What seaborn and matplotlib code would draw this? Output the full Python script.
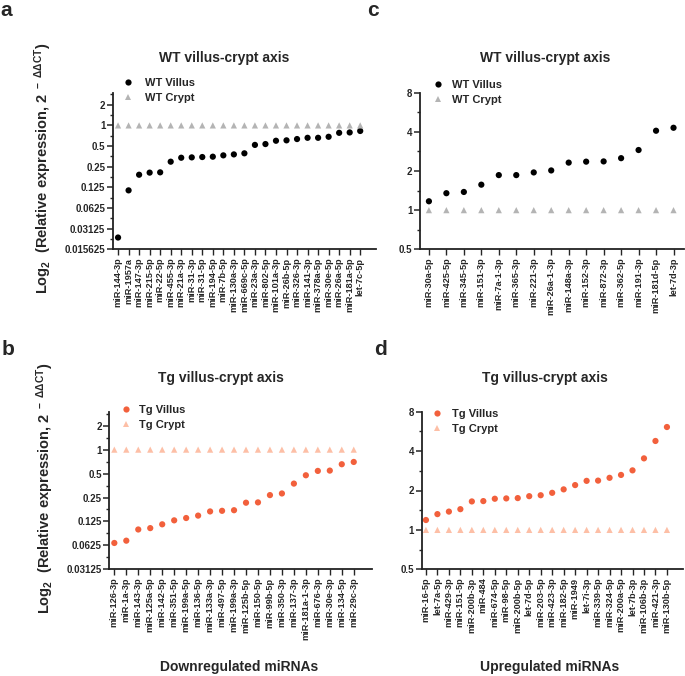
import pandas as pd
import matplotlib.pyplot as plt
import seaborn as sns
from matplotlib.ticker import FixedLocator, FixedFormatter, NullFormatter


sns.set_style("ticks")
plt.rcParams["font.family"] = ["Liberation Sans", "DejaVu Sans"]
plt.rcParams["mathtext.default"] = "regular"


# -------------------------------
# Data
# -------------------------------

# a: WT, downregulated in villus
wt_down_mirs = [
    "miR-144-3p", "miR-1957a", "miR-147-3p", "miR-215-5p", "miR-22-5p",
    "miR-455-3p", "miR-21a-3p", "miR-31-3p", "miR-31-5p", "miR-194-5p",
    "miR-7b-5p", "miR-130a-3p", "miR-669c-5p", "miR-23a-3p", "miR-802-5p",
    "miR-101a-3p", "miR-26b-5p", "miR-326-3p", "miR-141-3p", "miR-378a-5p",
    "miR-30e-5p", "miR-26a-5p", "miR-181a-5p", "let-7c-5p",
]
wt_down_villus = [
    0.0232, 0.113, 0.191, 0.205, 0.207,
    0.296, 0.338, 0.342, 0.346, 0.350,
    0.366, 0.378, 0.392, 0.520, 0.535,
    0.598, 0.606, 0.633, 0.660, 0.660,
    0.683, 0.780, 0.790, 0.830,
]

# b: Tg, downregulated in villus
tg_down_mirs = [
    "miR-126-3p", "miR-1a-3p", "miR-143-3p", "miR-125a-5p", "miR-142-5p",
    "miR-351-5p", "miR-199a-5p", "miR-136-5p", "miR-133a-3p", "miR-497-5p",
    "miR-199a-3p", "miR-125b-5p", "miR-150-5p", "miR-99b-5p", "miR-350-3p",
    "miR-137-3p", "miR-181a-1-3p", "miR-676-3p", "miR-30e-3p", "miR-134-5p",
    "miR-29c-3p",
]
tg_down_villus = [
    0.067, 0.0716, 0.099, 0.103, 0.115,
    0.129, 0.138, 0.148, 0.167, 0.170,
    0.173, 0.215, 0.217, 0.268, 0.281,
    0.374, 0.476, 0.540, 0.545, 0.655,
    0.700,
]

# c: WT, upregulated in villus
wt_up_mirs = [
    "miR-30a-5p", "miR-425-5p", "miR-345-5p", "miR-151-3p", "miR-7a-1-3p",
    "miR-365-3p", "miR-221-3p", "miR-26a-1-3p", "miR-148a-3p", "miR-152-3p",
    "miR-872-3p", "miR-362-5p", "miR-191-3p", "miR-181d-5p", "let-7d-3p",
]
wt_up_villus = [
    1.17, 1.35, 1.38, 1.57, 1.86,
    1.86, 1.95, 2.02, 2.32, 2.36,
    2.37, 2.51, 2.90, 4.08, 4.30,
]

# d: Tg, upregulated in villus
tg_up_mirs = [
    "miR-16-5p", "let-7a-5p", "miR-429-3p", "miR-151-5p", "miR-200b-3p",
    "miR-484", "miR-674-5p", "miR-98-5p", "miR-200b-5p", "let-7d-5p",
    "miR-203-5p", "miR-423-3p", "miR-182-5p", "miR-1949", "let-7i-3p",
    "miR-339-5p", "miR-324-5p", "miR-200a-5p", "let-7b-3p", "miR-106b-3p",
    "miR-421-3p", "miR-130b-5p",
]
tg_up_villus = [
    1.19, 1.32, 1.38, 1.44, 1.65,
    1.66, 1.73, 1.74, 1.75, 1.81,
    1.84, 1.92, 2.04, 2.20, 2.37,
    2.38, 2.50, 2.63, 2.85, 3.52,
    4.78, 6.11,
]

# crypt is the reference (2^0 = 1)
crypt_level = 1.0

down_ticks = [2, 1, 0.5, 0.25, 0.125, 0.0625, 0.03125, 0.015625]
down_tick_labels = ["2", "1", "0.5", "0.25", "0.125", "0.0625", "0.03125", "0.015625"]
up_ticks = [8, 4, 2, 1, 0.5]
up_tick_labels = ["8", "4", "2", "1", "0.5"]

wt_colors = ["#000000", "#b4b4b4"]
tg_colors = ["#f2603c", "#fdbfa6"]

W, H = 685, 676


def fx(px):
    return px / W


def fy(py):
    return 1 - py / H


def draw_panel(ax, mirs, villus, tag, colors, ticks, tick_labels, ylim, xlim, leg_xy, pad):
    n = len(mirs)
    df = pd.DataFrame({
        "miRNA": list(mirs) + list(mirs),
        "value": list(villus) + [crypt_level] * n,
        "group": [f"{tag} Villus"] * n + [f"{tag} Crypt"] * n,
    })
    sns.scatterplot(
        data=df, x="miRNA", y="value",
        hue="group", style="group",
        palette={f"{tag} Villus": colors[0], f"{tag} Crypt": colors[1]},
        markers={f"{tag} Villus": "o", f"{tag} Crypt": "^"},
        s=20, edgecolor="none", linewidth=0, ax=ax,
    )

    ax.set_yscale("log", base=2)
    ax.set_ylim(*ylim)
    ax.set_xlim(*xlim)
    ax.yaxis.set_major_locator(FixedLocator(ticks))
    ax.yaxis.set_major_formatter(FixedFormatter(tick_labels))
    minor = [t * 2 ** 0.5 for t in ticks if ylim[0] <= t * 2 ** 0.5 <= ylim[1]]
    ax.yaxis.set_minor_locator(FixedLocator(minor))
    ax.yaxis.set_minor_formatter(NullFormatter())

    ax.set_xlabel("")
    ax.set_ylabel("")
    sns.despine(ax=ax)
    for side in ["left", "bottom"]:
        ax.spines[side].set_linewidth(1.3)
        ax.spines[side].set_color("#222222")

    ax.tick_params(axis="y", which="major", length=4, width=1.1, labelsize=7, pad=1.5)
    ax.tick_params(axis="y", which="minor", length=2.5, width=1.0)
    ax.tick_params(axis="x", length=4, width=1.0, labelsize=6.6, pad=2,
                   labelrotation=90)
    for lab in ax.get_yticklabels() + ax.get_xticklabels():
        lab.set_fontweight("bold")

    sns.move_legend(
        ax, "upper left",
        bbox_to_anchor=(fx(leg_xy[0]), fy(leg_xy[1])),
        bbox_transform=fig.transFigure,
        frameon=False, title=None, borderpad=0, borderaxespad=0,
        handlelength=1.0, handletextpad=pad, labelspacing=0.45,
        prop={"weight": "bold", "size": 8},
    )


fig = plt.figure(figsize=(6.85, 6.76), dpi=100)

ax_a = fig.add_axes([fx(113), fy(249.3), fx(263), 156.6 / H])
ax_c = fig.add_axes([fx(420), fy(249.3), fx(264), 156.6 / H])
ax_b = fig.add_axes([fx(109.3), fy(569.3), fx(262.4), 157.6 / H])
ax_d = fig.add_axes([fx(421.7), fy(569.3), fx(261.3), 157.6 / H])

draw_panel(ax_a, wt_down_mirs, wt_down_villus, "WT", wt_colors,
           down_ticks, down_tick_labels, (0.015625, 3.0), (-0.48, 24.5),
           (122.5, 78), 1.0)
draw_panel(ax_c, wt_up_mirs, wt_up_villus, "WT", wt_colors,
           up_ticks, up_tick_labels, (0.5, 8.0), (-0.51, 14.6),
           (432, 80), 0.8)
draw_panel(ax_b, tg_down_mirs, tg_down_villus, "Tg", tg_colors,
           down_ticks[:-1], down_tick_labels[:-1], (0.03125, 3.0), (-0.42, 21.5),
           (120, 405), 0.7)
draw_panel(ax_d, tg_up_mirs, tg_up_villus, "Tg", tg_colors,
           up_ticks, up_tick_labels, (0.5, 8.0), (-0.37, 22.4),
           (431.5, 409), 0.8)


# titles
fig.text(fx(224), fy(58), "WT villus-crypt axis", ha="center", va="center",
         fontsize=10, weight="bold")
fig.text(fx(545), fy(58), "WT villus-crypt axis", ha="center", va="center",
         fontsize=10, weight="bold")
fig.text(fx(221), fy(378), "Tg villus-crypt axis", ha="center", va="center",
         fontsize=10, weight="bold")
fig.text(fx(545), fy(378), "Tg villus-crypt axis", ha="center", va="center",
         fontsize=10, weight="bold")

# y labels
ylab = r"Log$_2$  (Relative expression, 2$^{\ -\ \Delta\Delta CT}$)"
fig.text(fx(43), fy(168), ylab, rotation=90, ha="center", va="center",
         fontsize=10.5, weight="bold")
fig.text(fx(45), fy(488), ylab, rotation=90, ha="center", va="center",
         fontsize=10.5, weight="bold")

# x labels
fig.text(fx(239), fy(667), "Downregulated miRNAs", ha="center", va="center",
         fontsize=10, weight="bold")
fig.text(fx(550), fy(667), "Upregulated miRNAs", ha="center", va="center",
         fontsize=10, weight="bold")

# panel letters
fig.text(fx(0), fy(1), "a", fontsize=15, weight="bold", va="top")
fig.text(fx(367), fy(1), "c", fontsize=15, weight="bold", va="top")
fig.text(fx(2), fy(355), "b", fontsize=15, weight="bold", va="baseline")
fig.text(fx(374), fy(355), "d", fontsize=15, weight="bold", va="baseline")

fig.savefig("out.png", dpi=100)
